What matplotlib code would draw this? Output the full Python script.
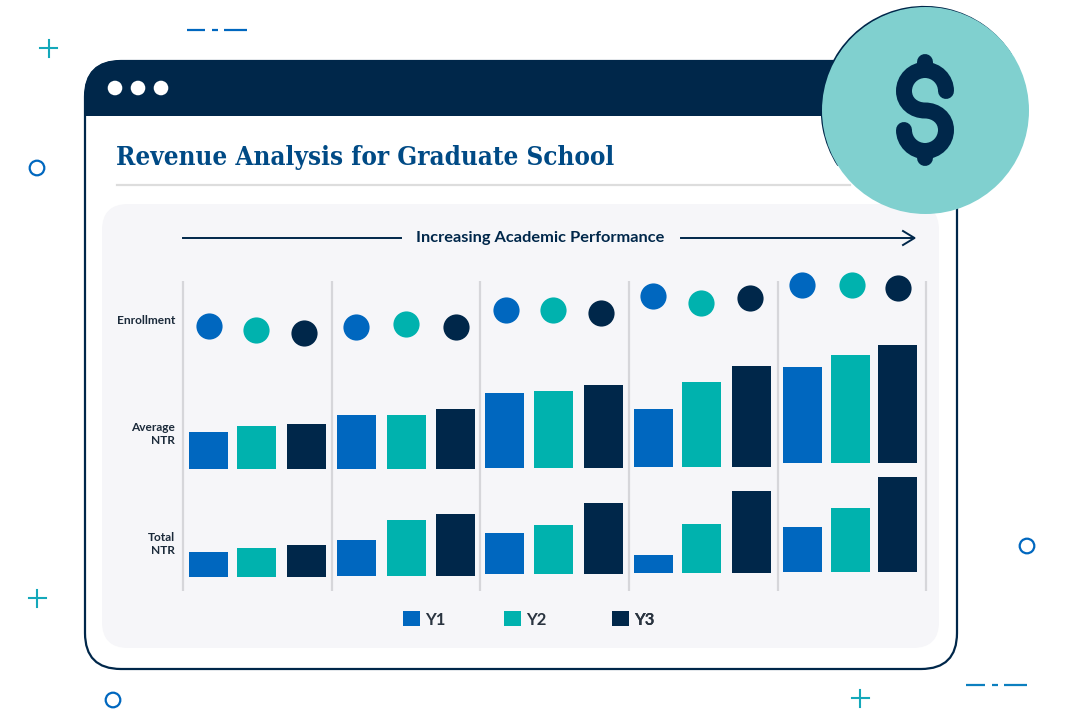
import numpy as np
import matplotlib
matplotlib.use("Agg")
import matplotlib.pyplot as plt
from matplotlib.patches import FancyBboxPatch, Circle, Arc, PathPatch, Rectangle
from matplotlib.path import Path

# ---------- data (in picture units) ----------
series = ["Y1", "Y2", "Y3"]
row_labels = ["Enrollment", "Average\nNTR", "Total\nNTR"]
enrollment_y1 = [395, 394, 411, 425, 436]
enrollment_y2 = [391, 397, 411, 418, 436]
enrollment_y3 = [388, 394, 408, 423, 433]
avg_ntr_y1 = [36.5, 53.5, 74.5, 58, 96]
avg_ntr_y2 = [42.5, 53.5, 76.5, 85, 108]
avg_ntr_y3 = [44.5, 59.5, 82.5, 101, 118]
total_ntr_y1 = [25, 36, 41, 18, 45]
total_ntr_y2 = [29, 56, 49, 48.5, 64]
total_ntr_y3 = [32, 62, 71, 81.5, 95]

# ---------- layout ----------
NAVY, BLUE, TEAL = "#00274A", "#0067BF", "#00B2AE"
MINT, PANEL, RULE, ACC = "#80D0CF", "#F6F6F9", "#D6D6DA", "#14A8BA"
colors = [BLUE, TEAL, NAVY]
TITLE = "#004A85"
bar_left = [[189, 237, 287], [337, 386.5, 436], [485, 534, 584], [634, 682, 732], [783, 830.5, 878]]
bar_w = 39
dot_x = [[208.5, 256, 304], [355.5, 405.5, 455.5], [505.5, 553, 601], [652.5, 701, 750], [801.5, 852, 898]]
avg_base = [468.5, 468.5, 467.5, 467, 463]
tot_base = [577, 576, 574, 572.5, 572]
sep_x = [183, 331.5, 480, 628.5, 778, 926]
ENROLL_ZERO = 721

fig = plt.figure(figsize=(10.81, 7.21), dpi=100)
ax = fig.add_axes([0, 0, 1, 1])
ax.set_xlim(0, 1081)
ax.set_ylim(721, 0)
ax.axis("off")
plt.rcParams["font.family"] = ["Lato", "DejaVu Sans"]

# ---------- window frame ----------
ax.add_patch(FancyBboxPatch((85, 61), 872, 608, boxstyle="round,pad=0,rounding_size=36",
                            fc="white", ec=NAVY, lw=1.6, zorder=1))
head = FancyBboxPatch((85, 61), 872, 100, boxstyle="round,pad=0,rounding_size=36",
                      fc=NAVY, ec=NAVY, lw=1.0, zorder=2)
ax.add_patch(head)
head.set_clip_path(Rectangle((80, 55), 890, 61, transform=ax.transData))
for x in (115, 138, 161):
    ax.add_patch(Circle((x, 88), 7.3, fc="white", ec="none", zorder=3))

ax.text(116, 157.5, "Revenue Analysis for Graduate School", family=["DejaVu Serif"], stretch="condensed",
        fontsize=18.6, color=TITLE, weight="semibold", va="center", ha="left", zorder=3)
ax.plot([117, 850], [184.5, 184.5], color="#DDDDDD", lw=1.6, zorder=3)

ax.add_patch(FancyBboxPatch((102, 204), 837, 444, boxstyle="round,pad=0,rounding_size=26",
                            fc=PANEL, ec="none", zorder=3))

# ---------- arrow header ----------
ax.plot([183, 401], [238, 238], color=NAVY, lw=1.4, zorder=4)
ax.plot([681, 914], [238, 238], color=NAVY, lw=1.4, zorder=4)
ax.plot([903, 914.5, 903], [231, 238, 245], color=NAVY, lw=1.4, zorder=4)
ax.text(540.5, 238, "Increasing Academic Performance", fontsize=11.8, weight="bold",
        color=NAVY, ha="center", va="center", zorder=4)

# ---------- separators ----------
ax.vlines(sep_x, 281, 591, color=RULE, lw=1.6, zorder=4)

# ---------- row labels ----------
ax.text(175, 321, row_labels[0], fontsize=8.6, weight="bold", color="#1B2A3A", ha="right", va="center", zorder=4)
ax.text(175, 434, row_labels[1], fontsize=8.6, weight="bold", color="#1B2A3A", ha="right", va="center",
        linespacing=1.25, zorder=4)
ax.text(175, 544, row_labels[2], fontsize=8.6, weight="bold", color="#1B2A3A", ha="right", va="center",
        linespacing=1.25, zorder=4)

# ---------- marks ----------
enroll = [enrollment_y1, enrollment_y2, enrollment_y3]
avg = [avg_ntr_y1, avg_ntr_y2, avg_ntr_y3]
tot = [total_ntr_y1, total_ntr_y2, total_ntr_y3]
handles = []
for s in range(3):
    xs = [g[s] for g in bar_left]
    dx = [g[s] for g in dot_x]
    ax.scatter(dx, [ENROLL_ZERO - v for v in enroll[s]], s=355, color=colors[s], linewidths=0, zorder=5)
    h = ax.bar(xs, [-v for v in avg[s]], width=bar_w, bottom=avg_base, align="edge",
               color=colors[s], linewidth=0, zorder=5)
    ax.bar(xs, [-v for v in tot[s]], width=bar_w, bottom=tot_base, align="edge",
           color=colors[s], linewidth=0, zorder=5)
    handles.append(h)

# ---------- legend ----------
for s, lx in enumerate((403, 504, 612)):
    leg = ax.legend([handles[s]], [series[s]], loc="center left", bbox_to_anchor=(lx, 619.5),
                    bbox_transform=ax.transData, frameon=False, prop={"size": 12, "weight": "bold"},
                    borderpad=0, borderaxespad=0,
                    handlelength=1.0, handleheight=1.0, handletextpad=0.3, labelcolor="#2A3440")
    leg.set_zorder(6)
    ax.add_artist(leg)

# ---------- badge ----------
ax.add_patch(Arc((924.3, 109.5), 205, 205, theta1=147, theta2=328, color=NAVY, lw=1.6, zorder=6))
ax.add_patch(Circle((925.5, 110.5), 103.5, fc=MINT, ec="none", zorder=7))
cx, r, k = 925, 21, 0.5523
t, b = 91, 130
verts = [(cx + r, t), (cx + r, t - k * r), (cx + k * r, t - r), (cx, t - r),
         (cx - k * r, t - r), (cx - r, t - k * r), (cx - r, t),
         (cx - r, t + 12), (cx - 11, 110.5), (cx, 110.5),
         (cx + 11, 110.5), (cx + r, b - 12), (cx + r, b),
         (cx + r, b + k * r), (cx + k * r, b + r), (cx, b + r),
         (cx - k * r, b + r), (cx - r, b + k * r), (cx - r, b)]
codes = [Path.MOVETO] + [Path.CURVE4] * (len(verts) - 1)
ax.add_patch(PathPatch(Path(verts, codes), fc="none", ec=NAVY, lw=11.5, capstyle="round", zorder=8))
ax.plot([cx, cx], [62, 70], color=NAVY, lw=11.5, solid_capstyle="round", zorder=8)
ax.plot([cx, cx], [151, 158], color=NAVY, lw=11.5, solid_capstyle="round", zorder=8)

# ---------- decoration ----------
def plus(x, y, c=ACC, a=8.5):
    ax.plot([x - a, x + a], [y, y], color=c, lw=1.5, zorder=1)
    ax.plot([x, x], [y - a, y + a], color=c, lw=1.5, zorder=1)

def ring(x, y, rr=7.3):
    ax.add_patch(Circle((x, y), rr, fc="none", ec=BLUE, lw=1.6, zorder=1))

plus(48.5, 48); plus(37, 598); plus(860, 698)
ring(37, 168); ring(1027, 546); ring(113, 700)
for y, segs, c in ((30, [(187, 205), (212, 218), (224, 247)], BLUE),
                   (685, [(966, 985), (992, 998), (1004, 1027)], "#0C7FBF")):
    for a, e in segs:
        ax.plot([a, e], [y, y], color=c, lw=1.6, solid_capstyle="butt", zorder=1)

fig.savefig("out.png", dpi=100)
